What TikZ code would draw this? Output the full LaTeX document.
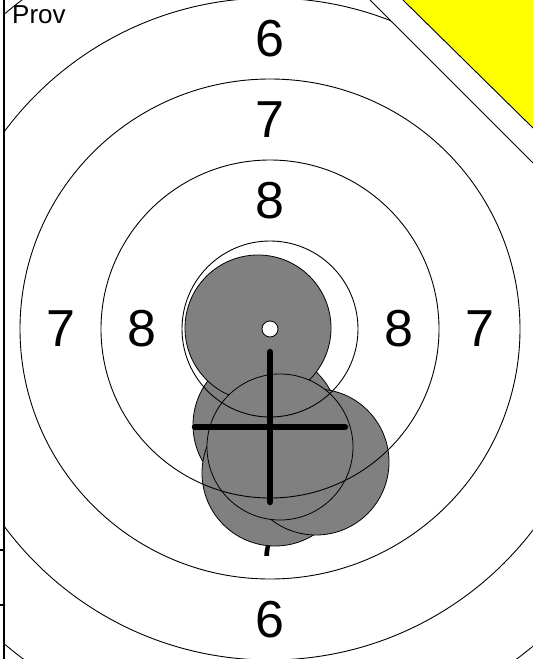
\documentclass[tikz,border=0pt]{standalone}
\usepackage{fontspec}
\setmainfont{Liberation Sans}
\usetikzlibrary{positioning}
\definecolor{ShotGray}{HTML}{808080}
\definecolor{MarkYellow}{HTML}{FFFF00}
\tikzset{
  ring/.style={circle,draw=black,line width=0.9pt,inner sep=0pt},
  shot/.style={circle,fill=ShotGray,draw=black,line width=0.8pt,
               inner sep=0pt,minimum size=146pt},
  num/.style={font=\fontsize{52}{52}\selectfont,inner sep=0pt},
  tenring/.style={circle,fill=white,draw=black,line width=0.8pt,
                  inner sep=0pt,minimum size=16pt},
  crossbar/.style={line width=6.5pt,line cap=round},
  edge/.style={line width=1.4pt}
}

\begin{document}
\begin{tikzpicture}[x=1pt,y=-1pt]
  \useasboundingbox (0,0) rectangle (533,659);
  \coordinate (centre) at (270,329);

  \begin{scope}
    \clip (4,0) -- (370,0) -- (533,163) -- (533,659) -- (4,659) -- cycle;
    \node[num] (sixN)   at (270,38.5)  {6};
    \node[num] (sevenN) at (270,119.5) {7};
    \node[num] (eightN) at (270,200.5) {8};
    \node[num] (sevenW) at (60.5,329)  {7};
    \node[num] (eightW) at (141.5,329) {8};
    \node[num] (eightE) at (398.5,329) {8};
    \node[num] (sevenE) at (479.5,329) {7};
    \node[num] (sevenS) at (270,538.5) {7};
    \node[num] (sixS)   at (270,620)   {6};

    \node[shot] (shotB) at (266,425) {};
    \node[shot] (shotA) at (258,328) {};
    \node[shot] (shotE) at (275,473) {};
    \node[shot] (shotD) at (316,462) {};
    \node[shot] (shotC) at (280,447) {};

    \node[ring,minimum size=176pt] (ring9) at (centre) {};
    \node[ring,minimum size=338pt] (ring8) at (centre) {};
    \node[ring,minimum size=500pt] (ring7) at (centre) {};
    \node[ring,minimum size=662pt] (ring6) at (centre) {};
    \node[ring,minimum size=824pt] (ring5) at (centre) {};
    \node[tenring] (ring10) at (centre) {};
  \end{scope}

  \coordinate (crossN) at (270,352);
  \coordinate (crossS) at (270,502);
  \coordinate (crossW) at (195,427);
  \coordinate (crossE) at (345,427);
  \draw[crossbar] (crossN) -- (crossS);
  \draw[crossbar] (crossW) -- (crossE);

  \coordinate (cutA) at (370,0);
  \coordinate (cutB) at (533,163);
  \draw[line width=0.9pt] (cutA) -- (cutB);
  \fill[MarkYellow] (403,0) -- (533,0) -- (533,128) -- cycle;
  \draw[line width=0.9pt] (403,0) -- (533,128);

  \coordinate (edgeT) at (4,0);
  \coordinate (edgeB) at (4,659);
  \draw[edge] (edgeT) -- (edgeB);
  \draw[edge] (0,550) -- (edgeT |- 0,550);
  \draw[edge] (0,605) -- (edgeT |- 0,605);

  \node[font=\fontsize{26}{26}\selectfont,anchor=base west,inner sep=0pt]
    (prov) at (12,23) {Prov};
\end{tikzpicture}
\end{document}
